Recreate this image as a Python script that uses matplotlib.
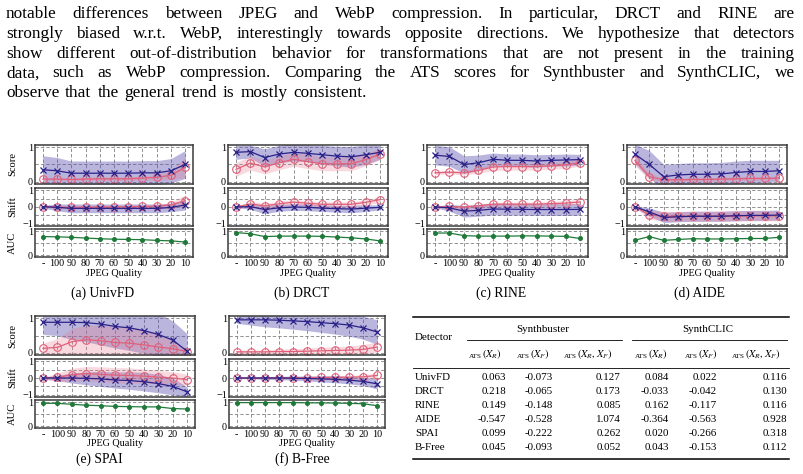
import numpy as np
import matplotlib
matplotlib.use('Agg')
import matplotlib.pyplot as plt
from matplotlib.lines import Line2D

W, H = 804, 474
plt.rcParams['font.family'] = ['Liberation Serif', 'DejaVu Serif']
plt.rcParams['mathtext.fontset'] = 'stix'

quality = ['-', '100', '90', '80', '70', '60', '50', '40', '30', '20', '10']

# _f = fake (blue, x), _r = real (red, o), _sd = half width of band
univfd_score_f = [0.35, 0.32, 0.25, 0.25, 0.25, 0.25, 0.25, 0.26, 0.26, 0.32, 0.50]
univfd_score_f_sd = [0.40, 0.38, 0.35, 0.35, 0.35, 0.35, 0.35, 0.35, 0.35, 0.35, 0.40]
univfd_score_r = [0.08, 0.08, 0.07, 0.08, 0.09, 0.09, 0.09, 0.11, 0.13, 0.19, 0.42]
univfd_score_r_sd = [0.04, 0.04, 0.04, 0.05, 0.05, 0.05, 0.05, 0.06, 0.08, 0.12, 0.30]
univfd_shift_f = [0.02, -0.02, -0.08, -0.08, -0.08, -0.08, -0.08, -0.08, -0.08, -0.03, 0.12]
univfd_shift_f_sd = [0.08, 0.20, 0.26, 0.26, 0.26, 0.26, 0.26, 0.26, 0.26, 0.25, 0.30]
univfd_shift_r = [0.02, 0.00, -0.02, 0.00, 0.00, 0.00, 0.02, 0.03, 0.05, 0.12, 0.38]
univfd_shift_r_sd = [0.05, 0.05, 0.05, 0.05, 0.05, 0.05, 0.05, 0.06, 0.08, 0.15, 0.35]
univfd_auc = [0.78, 0.77, 0.75, 0.72, 0.69, 0.67, 0.66, 0.65, 0.62, 0.60, 0.55]

drct_score_f = [0.85, 0.87, 0.70, 0.80, 0.85, 0.82, 0.78, 0.74, 0.72, 0.78, 0.85]
drct_score_f_sd = [0.20, 0.18, 0.25, 0.25, 0.25, 0.24, 0.27, 0.28, 0.30, 0.28, 0.20]
drct_score_r = [0.36, 0.54, 0.43, 0.55, 0.65, 0.58, 0.52, 0.52, 0.52, 0.64, 0.80]
drct_score_r_sd = [0.20, 0.20, 0.20, 0.20, 0.20, 0.20, 0.20, 0.20, 0.20, 0.18, 0.15]
drct_shift_f = [0.00, 0.02, -0.15, -0.05, 0.00, -0.02, -0.07, -0.10, -0.12, -0.07, -0.02]
drct_shift_f_sd = [0.05, 0.15, 0.25, 0.20, 0.20, 0.20, 0.20, 0.20, 0.22, 0.20, 0.15]
drct_shift_r = [0.00, 0.18, 0.07, 0.19, 0.29, 0.22, 0.16, 0.16, 0.16, 0.28, 0.44]
drct_shift_r_sd = [0.05, 0.15, 0.15, 0.15, 0.15, 0.15, 0.15, 0.15, 0.15, 0.15, 0.18]
drct_auc = [0.95, 0.90, 0.78, 0.80, 0.80, 0.80, 0.79, 0.76, 0.73, 0.68, 0.60]

rine_score_f = [0.77, 0.73, 0.50, 0.55, 0.65, 0.62, 0.62, 0.60, 0.62, 0.63, 0.64]
rine_score_f_sd = [0.28, 0.28, 0.25, 0.22, 0.18, 0.18, 0.18, 0.18, 0.17, 0.17, 0.15]
rine_score_r = [0.26, 0.28, 0.26, 0.33, 0.43, 0.44, 0.44, 0.44, 0.46, 0.49, 0.55]
rine_score_r_sd = [0.05, 0.05, 0.06, 0.08, 0.10, 0.10, 0.10, 0.10, 0.10, 0.10, 0.10]
rine_shift_f = [0.00, -0.05, -0.25, -0.20, -0.12, -0.13, -0.14, -0.15, -0.15, -0.15, -0.14]
rine_shift_f_sd = [0.05, 0.20, 0.35, 0.35, 0.35, 0.35, 0.35, 0.35, 0.35, 0.35, 0.35]
rine_shift_r = [0.00, 0.03, 0.00, 0.07, 0.16, 0.17, 0.17, 0.17, 0.20, 0.23, 0.30]
rine_shift_r_sd = [0.05, 0.06, 0.08, 0.10, 0.12, 0.12, 0.12, 0.12, 0.13, 0.14, 0.15]
rine_auc = [0.93, 0.93, 0.82, 0.80, 0.80, 0.80, 0.81, 0.81, 0.80, 0.79, 0.70]

aide_score_f = [0.80, 0.50, 0.15, 0.20, 0.22, 0.22, 0.23, 0.27, 0.30, 0.30, 0.32]
aide_score_f_sd = [0.28, 0.40, 0.35, 0.33, 0.33, 0.33, 0.33, 0.33, 0.32, 0.32, 0.30]
aide_score_r = [0.62, 0.15, 0.06, 0.06, 0.07, 0.07, 0.08, 0.09, 0.10, 0.10, 0.11]
aide_score_r_sd = [0.15, 0.10, 0.05, 0.05, 0.05, 0.05, 0.05, 0.05, 0.05, 0.05, 0.05]
aide_shift_f = [0.02, -0.30, -0.62, -0.58, -0.55, -0.55, -0.55, -0.52, -0.50, -0.50, -0.48]
aide_shift_f_sd = [0.05, 0.25, 0.30, 0.30, 0.30, 0.30, 0.30, 0.30, 0.30, 0.30, 0.30]
aide_shift_r = [0.02, -0.47, -0.55, -0.56, -0.55, -0.55, -0.55, -0.53, -0.52, -0.52, -0.53]
aide_shift_r_sd = [0.05, 0.25, 0.30, 0.30, 0.30, 0.30, 0.30, 0.30, 0.30, 0.30, 0.30]
aide_auc = [0.63, 0.78, 0.62, 0.66, 0.69, 0.68, 0.68, 0.69, 0.70, 0.70, 0.75]

spai_score_f = [0.88, 0.88, 0.88, 0.87, 0.83, 0.76, 0.72, 0.64, 0.53, 0.37, 0.05]
spai_score_f_sd = [0.35, 0.38, 0.50, 0.55, 0.60, 0.62, 0.65, 0.65, 0.62, 0.55, 0.50]
spai_score_r = [0.13, 0.16, 0.32, 0.38, 0.35, 0.30, 0.28, 0.23, 0.17, 0.12, 0.04]
spai_score_r_sd = [0.15, 0.25, 0.38, 0.42, 0.45, 0.45, 0.45, 0.42, 0.35, 0.25, 0.06]
spai_shift_f = [0.00, 0.00, 0.00, -0.02, -0.05, -0.12, -0.15, -0.22, -0.33, -0.50, -0.82]
spai_shift_f_sd = [0.05, 0.15, 0.30, 0.38, 0.45, 0.48, 0.52, 0.55, 0.55, 0.50, 0.30]
spai_shift_r = [0.00, 0.03, 0.20, 0.26, 0.22, 0.17, 0.15, 0.11, 0.05, 0.00, -0.10]
spai_shift_r_sd = [0.05, 0.25, 0.38, 0.42, 0.45, 0.45, 0.45, 0.42, 0.40, 0.38, 0.32]
spai_auc = [0.96, 0.96, 0.92, 0.88, 0.86, 0.83, 0.82, 0.81, 0.81, 0.74, 0.72]

bfree_score_f = [0.95, 0.95, 0.95, 0.94, 0.92, 0.90, 0.87, 0.84, 0.80, 0.72, 0.60]
bfree_score_f_sd = [0.10, 0.15, 0.20, 0.22, 0.24, 0.26, 0.28, 0.30, 0.32, 0.33, 0.35]
bfree_score_r = [0.03, 0.03, 0.03, 0.04, 0.04, 0.05, 0.06, 0.07, 0.08, 0.10, 0.17]
bfree_score_r_sd = [0.05, 0.05, 0.06, 0.07, 0.08, 0.09, 0.10, 0.11, 0.12, 0.14, 0.15]
bfree_shift_f = [0.00, 0.00, 0.00, 0.00, -0.01, -0.03, -0.05, -0.08, -0.13, -0.20, -0.35]
bfree_shift_f_sd = [0.03, 0.05, 0.08, 0.10, 0.12, 0.15, 0.18, 0.20, 0.22, 0.25, 0.30]
bfree_shift_r = [0.00, 0.00, 0.00, 0.01, 0.01, 0.02, 0.03, 0.04, 0.05, 0.07, 0.15]
bfree_shift_r_sd = [0.03, 0.04, 0.05, 0.06, 0.07, 0.08, 0.09, 0.10, 0.11, 0.12, 0.15]
bfree_auc = [0.99, 0.99, 0.99, 0.99, 0.99, 0.98, 0.98, 0.97, 0.96, 0.94, 0.86]

# table
table_detectors = ['UnivFD', 'DRCT', 'RINE', 'AIDE', 'SPAI', 'B-Free']
sb_ats_r = [0.063, 0.218, 0.149, -0.547, 0.099, 0.045]
sb_ats_f = [-0.073, -0.065, -0.148, -0.528, -0.222, -0.093]
sb_ats_rf = [0.127, 0.173, 0.085, 1.074, 0.262, 0.052]
sc_ats_r = [0.084, -0.033, 0.162, -0.364, 0.020, 0.043]
sc_ats_f = [0.022, -0.042, -0.117, -0.563, -0.266, -0.153]
sc_ats_rf = [0.116, 0.130, 0.116, 0.928, 0.318, 0.112]

paragraph = [
    'notable differences between JPEG and WebP compression.  In particular, DRCT and RINE are',
    'strongly biased w.r.t. WebP, interestingly towards opposite directions. We hypothesize that detectors',
    'show different out-of-distribution behavior for transformations that are not present in the training',
    'data, such as WebP compression. Comparing the ATS scores for Synthbuster and SynthCLIC, we',
    'observe that the general trend is mostly consistent.',
]

BLUE = '#2a2188'
RED = '#e0607a'
GREEN = '#1f7a3a'

fig = plt.figure(figsize=(W / 100, H / 100), dpi=100)
x = np.arange(len(quality))


def px_axes(x0, x1, y0, y1):
    return fig.add_axes([x0 / W, 1 - y1 / H, (x1 - x0) / W, (y1 - y0) / H])


def style(ax, ylim, grid_y, ticks, labels, show_x):
    ax.set_xlim(-0.55, 10.55)
    ax.set_ylim(*ylim)
    ax.set_xticks(x)
    ax.set_xticklabels(quality if show_x else [])
    ax.set_yticks(grid_y)
    ax.set_yticklabels([labels[ticks.index(v)] if v in ticks else '' for v in grid_y])
    ax.grid(True, ls=(0, (4, 2.5)), lw=0.6, color='#808080')
    ax.set_axisbelow(True)
    ax.tick_params(length=0, labelsize=7.3, pad=1.5)
    for s in ax.spines.values():
        s.set_color('#3a3a3a')
        s.set_linewidth(1.1)


def pair(ax, f, fsd, r, rsd):
    f, fsd, r, rsd = map(np.array, (f, fsd, r, rsd))
    ax.fill_between(x, f - fsd, f + fsd, color='#5a4fb0', alpha=0.42, lw=0)
    ax.fill_between(x, r - rsd, r + rsd, color='#e8788c', alpha=0.28, lw=0)
    ax.plot(x, r, color=RED, lw=0.9, marker='o', ms=5.5, mfc='none', mew=0.8)
    ax.plot(x, f, color=BLUE, lw=0.9, marker='x', ms=5, mew=0.9)


def detector(x0, x1, top, qy, cy, cx, caption, d, ylabels):
    a1 = px_axes(x0, x1, top, top + 39)
    a2 = px_axes(x0, x1, top + 43, top + 81)
    a3 = px_axes(x0, x1, top + 84, top + 112)
    pair(a1, d[0], d[1], d[2], d[3])
    pair(a2, d[4], d[5], d[6], d[7])
    a3.plot(x, d[8], color=GREEN, lw=0.9, marker='o', ms=2.6)
    style(a1, (-0.06, 1.06), [0, 0.5, 1], [0, 1], ['0', '1'], False)
    style(a2, (-1.13, 1.13), [-1, -0.5, 0, 0.5, 1], [-1, 0, 1], ['\u22121', '0', '1'], False)
    style(a3, (-0.08, 1.1), [0, 0.5, 1], [0, 1], ['0', '1'], True)
    if ylabels:
        for a, lab in zip((a1, a2, a3), ('Score', 'Shift', 'AUC')):
            a.set_ylabel(lab, fontsize=7.6)
            a.yaxis.set_label_coords((17 - x0) / (x1 - x0), 0.5)
    ov.text((x0 + x1) / 2, qy, 'JPEG Quality', ha='center', va='center', fontsize=7.3)
    ov.text(cx, cy, caption, ha='center', va='center', fontsize=9.8)


ov = fig.add_axes([0, 0, 1, 1])
ov.set_xlim(0, W)
ov.set_ylim(H, 0)
ov.axis('off')

det_data = {
    'univfd': [univfd_score_f, univfd_score_f_sd, univfd_score_r, univfd_score_r_sd,
               univfd_shift_f, univfd_shift_f_sd, univfd_shift_r, univfd_shift_r_sd, univfd_auc],
    'drct': [drct_score_f, drct_score_f_sd, drct_score_r, drct_score_r_sd,
             drct_shift_f, drct_shift_f_sd, drct_shift_r, drct_shift_r_sd, drct_auc],
    'rine': [rine_score_f, rine_score_f_sd, rine_score_r, rine_score_r_sd,
             rine_shift_f, rine_shift_f_sd, rine_shift_r, rine_shift_r_sd, rine_auc],
    'aide': [aide_score_f, aide_score_f_sd, aide_score_r, aide_score_r_sd,
             aide_shift_f, aide_shift_f_sd, aide_shift_r, aide_shift_r_sd, aide_auc],
    'spai': [spai_score_f, spai_score_f_sd, spai_score_r, spai_score_r_sd,
             spai_shift_f, spai_shift_f_sd, spai_shift_r, spai_shift_r_sd, spai_auc],
    'bfree': [bfree_score_f, bfree_score_f_sd, bfree_score_r, bfree_score_r_sd,
              bfree_shift_f, bfree_shift_f_sd, bfree_shift_r, bfree_shift_r_sd, bfree_auc],
}

detector(35, 193, 145, 273, 293, 103, '(a) UnivFD', det_data['univfd'], True)
detector(228, 388, 145, 273, 293, 302, '(b) DRCT', det_data['drct'], False)
detector(427, 588, 145, 273, 293, 501, '(c) RINE', det_data['rine'], False)
detector(627, 787, 145, 273, 293, 699, '(d) AIDE', det_data['aide'], False)
detector(35, 195, 316, 443, 459, 99, '(e) SPAI', det_data['spai'], True)
detector(229, 385, 316, 443, 459, 302, '(f) B-Free', det_data['bfree'], False)

r = fig.canvas.get_renderer()


def width_of(s, size, **kw):
    t = ov.text(0, 0, s, fontsize=size, **kw)
    w = t.get_window_extent(r).width
    t.remove()
    return w


# paragraph, justified by hand to the 6..795 px column
fs = 12.4
for i, line in enumerate(paragraph):
    y = 18 + i * 19.75
    words = line.split()
    texts = [ov.text(0, y, w, fontsize=fs, va='baseline', ha='left') for w in words]
    widths = [t.get_window_extent(r).width for t in texts]
    if i < len(paragraph) - 1:
        gap = (789 - sum(widths)) / (len(words) - 1)
    else:
        gap = width_of('a a', fs) - width_of('aa', fs) + 1.5
    xx = 6
    for t, w in zip(texts, widths):
        t.set_x(xx)
        xx += w + gap

# table
tfs = 7.9
for yy, lw in ((317, 1.1), (459, 1.1), (368, 0.6)):
    ov.add_line(Line2D([413, 789], [yy, yy], color='black', lw=lw))
ov.add_line(Line2D([467, 622], [340, 340], color='black', lw=0.6))
ov.add_line(Line2D([632, 787], [340, 340], color='black', lw=0.6))
ov.text(415, 338, 'Detector', fontsize=tfs, va='center', ha='left')
ov.text(543, 330, 'Synthbuster', fontsize=tfs, va='center', ha='center')
ov.text(708, 330, 'SynthCLIC', fontsize=tfs, va='center', ha='center')
sub = ['$(X_R)$', '$(X_F)$', '$(X_R, X_F)$']
for cxs in ([485, 533, 588], [651, 701, 756]):
    for cxx, s in zip(cxs, sub):
        w1 = width_of('ATS', 5.2)
        w2 = width_of(s, 7.6)
        left = cxx - (w1 + w2) / 2
        ov.text(left, 357.5, 'ATS', fontsize=5.2, va='baseline', ha='left')
        ov.text(left + w1, 357.5, s, fontsize=7.6, va='baseline', ha='left')
col_right = [506, 553, 621, 669, 717, 787]
cols = [sb_ats_r, sb_ats_f, sb_ats_rf, sc_ats_r, sc_ats_f, sc_ats_rf]
for k, name in enumerate(table_detectors):
    yy = 377 + k * 14.1
    ov.text(415, yy, name, fontsize=tfs, va='center', ha='left')
    for cr, col in zip(col_right, cols):
        ov.text(cr, yy, f'{col[k]:.3f}', fontsize=tfs, va='center', ha='right')

fig.savefig('out.png', dpi=100)
